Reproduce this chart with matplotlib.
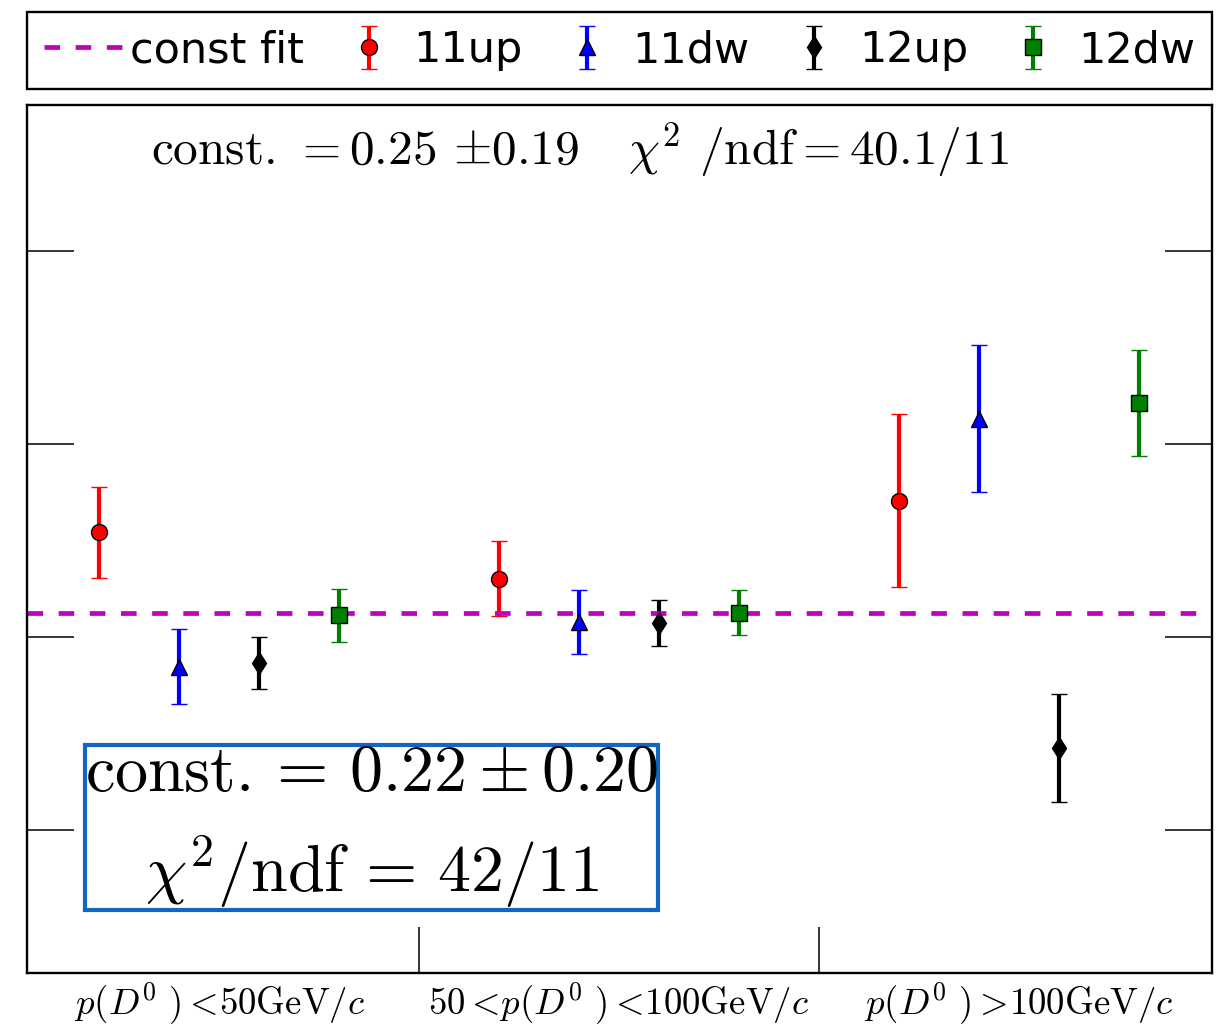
import numpy as np
import matplotlib
matplotlib.use("Agg")
import matplotlib.pyplot as plt

plt.rcParams['mathtext.fontset'] = 'cm'
plt.rcParams['axes.unicode_minus'] = False

# momentum bins
bins = [r'$p(D^0\ ) <\!$50GeV$/c$',
        r'50$<\!p(D^0\ ) <\!$100GeV$/c$',
        r'$p(D^0\ ) >\!$100GeV$/c$']

# samples and their styles
samples = ['11up', '11dw', '12up', '12dw']
colors = ['red', 'blue', 'black', 'green']
markers = ['o', '^', 'd', 's']

# measured values per sample (one entry per momentum bin) and their errors
val_11up = [1.08, 0.60, 1.41]
err_11up = [0.47, 0.39, 0.90]
val_11dw = [-0.31, 0.15, 2.26]
err_11dw = [0.39, 0.33, 0.76]
val_12up = [-0.27, 0.14, -1.15]
err_12up = [0.27, 0.24, 0.56]
val_12dw = [0.22, 0.25, 2.42]
err_12dw = [0.27, 0.23, 0.55]

values = [val_11up, val_11dw, val_12up, val_12dw]
errors = [err_11up, err_11dw, err_12up, err_12dw]

const_fit = 0.25

fig = plt.figure(figsize=(12.27, 10.29), dpi=100)
ax = fig.add_axes([27/1227, 56/1029, 1185/1227, 868/1029])

centers = np.arange(len(bins))
offsets = (np.arange(len(samples)) - 1.5) * 0.2
handles = []
for k, name in enumerate(samples):
    eb = ax.errorbar(centers + offsets[k], values[k], yerr=errors[k],
                     fmt=markers[k], color=colors[k], ecolor=colors[k],
                     markerfacecolor=colors[k], markeredgecolor='black',
                     markeredgewidth=1.0, markersize=11.5,
                     elinewidth=3.0, capsize=5.8, capthick=1.1,
                     label=name)
    handles.append(eb)

fit_line = ax.axhline(const_fit, color='m', lw=3.4, dashes=(3.3, 3.3),
                      label='const fit')

ax.set_xlim(-0.48, 2.4825)
ax.set_ylim(-3.485, 5.51)

# y ticks: marks only, both sides
ax.set_yticks([-2, 0, 2, 4])
ax.tick_params(axis='y', which='major', direction='in', length=34, width=1.1,
               left=True, right=True, labelleft=False, labelright=False)
# x: bin boundaries as marks, bin names as unmarked labels
ax.set_xticks([0.5, 1.5])
ax.set_xticks(centers, minor=True)
ax.set_xticklabels(['', ''])
ax.set_xticklabels(bins, minor=True, fontfamily='cmr10', fontsize=26.5)
ax.tick_params(axis='x', which='major', direction='in', length=33, width=1.1,
               top=False)
ax.tick_params(axis='x', which='minor', length=0, pad=6)

for s in ax.spines.values():
    s.set_linewidth(1.7)

ax.text(0.4665, 0.948,
        r'const. $=$0.25 $\pm$0.19   $\chi^2$ /ndf$=$40.1/11',
        transform=ax.transAxes, ha='center', va='center',
        fontfamily='cmr10', fontsize=35.5)

ax.text(0.291, 0.170,
        r'$\mathrm{const.}=\,0.22\pm0.20$' + '\n' + r'$\chi^2/\mathrm{ndf}\,=\,42/11$',
        transform=ax.transAxes, ha='center', va='center', multialignment='center',
        fontsize=47.5, linespacing=1.5,
        bbox=dict(facecolor='none', edgecolor='#1166c4', linewidth=3.0,
                  boxstyle='square,pad=0.0'))

leg = ax.legend([fit_line] + handles, ['const fit'] + samples,
                loc='lower left', bbox_to_anchor=(0.0, 1.019, 1.0, 0.09),
                mode='expand', ncol=5, fontsize=31, frameon=True,
                fancybox=False, framealpha=1, edgecolor='black',
                handlelength=1.9, handletextpad=0.1, borderaxespad=0.0,
                borderpad=0.4, numpoints=1)
leg.get_frame().set_linewidth(1.7)

fig.savefig('out.png', dpi=100)
